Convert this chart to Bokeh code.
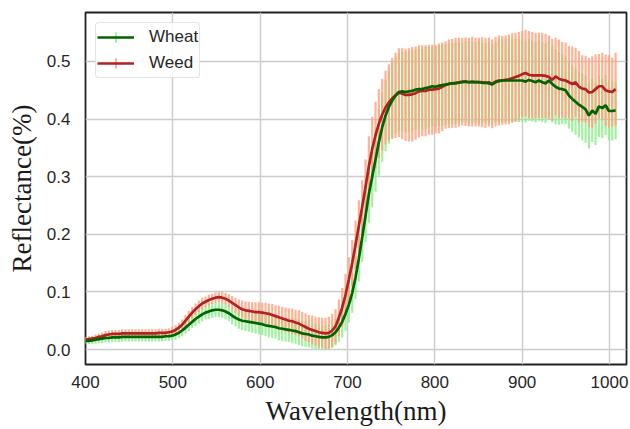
import numpy as np
from bokeh.plotting import figure
from bokeh.models import (ColumnDataSource, Legend, LegendItem, FixedTicker,
                          PrintfTickFormatter, Range1d)
from bokeh.embed import file_html
from bokeh.resources import INLINE

# band centres of the spectrometer (nm)
wavelength = np.linspace(400, 1007, 160)

wheat_mean = [
    0.015, 0.015, 0.016, 0.017, 0.018, 0.019, 0.020, 0.020, 0.021, 0.021,
    0.021, 0.022, 0.022, 0.022, 0.022, 0.022, 0.022, 0.022, 0.022, 0.022,
    0.022, 0.022, 0.022, 0.022, 0.023, 0.023, 0.024, 0.026, 0.029, 0.033,
    0.038, 0.043, 0.048, 0.053, 0.057, 0.061, 0.064, 0.066, 0.068, 0.069,
    0.069, 0.068, 0.066, 0.063, 0.059, 0.055, 0.052, 0.050, 0.049, 0.048,
    0.047, 0.046, 0.045, 0.044, 0.042, 0.041, 0.040, 0.039, 0.037, 0.036,
    0.035, 0.034, 0.033, 0.032, 0.030, 0.028, 0.027, 0.026, 0.024, 0.023,
    0.022, 0.021, 0.021, 0.022, 0.025, 0.030, 0.038, 0.048, 0.062, 0.078,
    0.098, 0.125, 0.158, 0.195, 0.232, 0.270, 0.300, 0.330, 0.360, 0.386,
    0.406, 0.421, 0.432, 0.441, 0.447, 0.448, 0.447, 0.448, 0.449, 0.451,
    0.452, 0.452, 0.454, 0.455, 0.457, 0.456, 0.458, 0.459, 0.460, 0.461,
    0.462, 0.462, 0.463, 0.464, 0.465, 0.464, 0.464, 0.464, 0.464, 0.463,
    0.463, 0.462, 0.460, 0.464, 0.466, 0.467, 0.467, 0.467, 0.467, 0.467,
    0.467, 0.467, 0.465, 0.468, 0.466, 0.464, 0.467, 0.464, 0.462, 0.467,
    0.461, 0.456, 0.453, 0.452, 0.450, 0.441, 0.435, 0.430, 0.425, 0.421,
    0.417, 0.406, 0.415, 0.409, 0.422, 0.419, 0.424, 0.414, 0.414, 0.415,
]
wheat_std = [
    0.006, 0.006, 0.007, 0.007, 0.007, 0.008, 0.008, 0.008, 0.008, 0.008,
    0.008, 0.008, 0.008, 0.008, 0.008, 0.008, 0.008, 0.008, 0.008, 0.008,
    0.008, 0.008, 0.008, 0.008, 0.008, 0.008, 0.008, 0.009, 0.009, 0.010,
    0.010, 0.011, 0.011, 0.012, 0.012, 0.012, 0.012, 0.013, 0.013, 0.013,
    0.013, 0.013, 0.014, 0.014, 0.015, 0.015, 0.016, 0.016, 0.017, 0.017,
    0.018, 0.018, 0.019, 0.019, 0.019, 0.020, 0.020, 0.020, 0.021, 0.021,
    0.021, 0.021, 0.022, 0.022, 0.022, 0.022, 0.022, 0.022, 0.022, 0.022,
    0.022, 0.022, 0.022, 0.022, 0.022, 0.023, 0.025, 0.027, 0.029, 0.031,
    0.034, 0.037, 0.040, 0.043, 0.046, 0.050, 0.053, 0.056, 0.058, 0.060,
    0.062, 0.064, 0.066, 0.067, 0.068, 0.069, 0.070, 0.070, 0.070, 0.070,
    0.070, 0.070, 0.071, 0.070, 0.069, 0.070, 0.070, 0.071, 0.070, 0.070,
    0.070, 0.071, 0.070, 0.069, 0.070, 0.071, 0.070, 0.070, 0.071, 0.070,
    0.070, 0.071, 0.070, 0.070, 0.071, 0.071, 0.072, 0.071, 0.071, 0.072,
    0.072, 0.072, 0.071, 0.071, 0.070, 0.070, 0.070, 0.069, 0.069, 0.068,
    0.067, 0.065, 0.063, 0.061, 0.059, 0.058, 0.057, 0.057, 0.057, 0.058,
    0.058, 0.057, 0.055, 0.054, 0.053, 0.052, 0.052, 0.051, 0.051, 0.050,
]
weed_mean = [
    0.017, 0.018, 0.019, 0.020, 0.022, 0.023, 0.025, 0.026, 0.027, 0.027,
    0.027, 0.028, 0.028, 0.028, 0.028, 0.028, 0.028, 0.028, 0.028, 0.028,
    0.028, 0.028, 0.029, 0.029, 0.029, 0.030, 0.031, 0.034, 0.038, 0.043,
    0.050, 0.057, 0.064, 0.070, 0.075, 0.080, 0.083, 0.086, 0.088, 0.090,
    0.091, 0.090, 0.088, 0.085, 0.081, 0.077, 0.073, 0.070, 0.068, 0.067,
    0.066, 0.065, 0.065, 0.064, 0.063, 0.062, 0.060, 0.058, 0.056, 0.054,
    0.052, 0.050, 0.049, 0.047, 0.045, 0.042, 0.039, 0.036, 0.034, 0.032,
    0.030, 0.029, 0.028, 0.029, 0.033, 0.040, 0.055, 0.073, 0.095, 0.122,
    0.150, 0.182, 0.215, 0.248, 0.282, 0.318, 0.348, 0.372, 0.392, 0.408,
    0.420, 0.429, 0.436, 0.441, 0.446, 0.444, 0.442, 0.442, 0.443, 0.445,
    0.448, 0.449, 0.449, 0.451, 0.451, 0.452, 0.453, 0.456, 0.459, 0.461,
    0.462, 0.463, 0.464, 0.465, 0.465, 0.464, 0.465, 0.464, 0.464, 0.464,
    0.463, 0.464, 0.461, 0.465, 0.467, 0.467, 0.468, 0.469, 0.471, 0.473,
    0.475, 0.478, 0.480, 0.477, 0.476, 0.476, 0.476, 0.476, 0.475, 0.473,
    0.468, 0.474, 0.470, 0.468, 0.467, 0.464, 0.461, 0.464, 0.456, 0.453,
    0.452, 0.446, 0.447, 0.452, 0.457, 0.457, 0.450, 0.448, 0.447, 0.452,
]
weed_std = [
    0.005, 0.005, 0.005, 0.006, 0.006, 0.006, 0.007, 0.007, 0.007, 0.007,
    0.007, 0.007, 0.007, 0.007, 0.007, 0.007, 0.007, 0.007, 0.007, 0.007,
    0.007, 0.007, 0.007, 0.007, 0.007, 0.007, 0.008, 0.008, 0.009, 0.009,
    0.010, 0.010, 0.010, 0.010, 0.010, 0.010, 0.009, 0.009, 0.009, 0.009,
    0.009, 0.010, 0.010, 0.011, 0.012, 0.013, 0.014, 0.015, 0.016, 0.016,
    0.016, 0.017, 0.017, 0.017, 0.018, 0.018, 0.019, 0.019, 0.020, 0.020,
    0.021, 0.021, 0.022, 0.022, 0.023, 0.023, 0.024, 0.024, 0.025, 0.025,
    0.026, 0.026, 0.027, 0.028, 0.029, 0.030, 0.032, 0.034, 0.036, 0.038,
    0.040, 0.042, 0.044, 0.046, 0.048, 0.052, 0.056, 0.058, 0.060, 0.062,
    0.064, 0.066, 0.070, 0.074, 0.077, 0.079, 0.080, 0.081, 0.082, 0.081,
    0.080, 0.079, 0.079, 0.078, 0.078, 0.077, 0.078, 0.077, 0.076, 0.077,
    0.077, 0.078, 0.077, 0.076, 0.077, 0.077, 0.078, 0.077, 0.077, 0.078,
    0.078, 0.077, 0.077, 0.078, 0.078, 0.077, 0.077, 0.078, 0.078, 0.077,
    0.076, 0.075, 0.075, 0.076, 0.075, 0.074, 0.074, 0.074, 0.073, 0.072,
    0.071, 0.067, 0.068, 0.066, 0.066, 0.063, 0.065, 0.060, 0.062, 0.058,
    0.058, 0.060, 0.062, 0.060, 0.056, 0.058, 0.062, 0.063, 0.060, 0.063,
]

x_ticks = [400, 500, 600, 700, 800, 900, 1000]
y_ticks = [0.0, 0.1, 0.2, 0.3, 0.4, 0.5]

wm = np.array(wheat_mean); ws = np.array(wheat_std)
dm = np.array(weed_mean); ds = np.array(weed_std)
src = ColumnDataSource(dict(
    wl=wavelength, wheat=wm, wheat_lo=wm - ws, wheat_hi=wm + ws,
    weed=dm, weed_lo=dm - ds, weed_hi=dm + ds,
))

p = figure(width=630, height=429, output_backend="svg", toolbar_location=None,
           title=None,
           x_range=Range1d(400, 1019.5), y_range=Range1d(-0.026, 0.585),
           min_border_left=85, min_border_right=4, min_border_top=12,
           min_border_bottom=65)
p.background_fill_color = "white"
p.border_fill_color = "white"
p.outline_line_color = "#222222"
p.outline_line_width = 1.8

# error bars
p.segment(x0="wl", y0="wheat_lo", x1="wl", y1="wheat_hi", source=src,
          line_color="lightgreen", line_width=2.2, line_alpha=0.85)
p.segment(x0="wl", y0="weed_lo", x1="wl", y1="weed_hi", source=src,
          line_color="lightsalmon", line_width=2.2, line_alpha=0.8)
# mean lines
r_weed = p.line("wl", "weed", source=src, line_color="firebrick", line_width=2.7)
r_wheat = p.line("wl", "wheat", source=src, line_color="darkgreen", line_width=2.7)

# legend swatch helpers: zero-size markers on the plot, drawn only in the legend
lg_wheat = p.scatter("wl", "wheat", source=src, marker="cross", size=0,
                     line_color="lightgreen", line_width=1.6)
lg_weed = p.scatter("wl", "weed", source=src, marker="cross", size=0,
                    line_color="lightsalmon", line_width=1.6)

legend = Legend(items=[LegendItem(label="Wheat", renderers=[lg_wheat, r_wheat]),
                       LegendItem(label="Weed", renderers=[lg_weed, r_weed])],
                location="top_left", margin=10, padding=1, spacing=0,
                glyph_width=37, glyph_height=26, label_height=26,
                label_standoff=15, label_text_font="Liberation Sans",
                label_text_font_size="17px", label_text_color="#262626",
                border_line_color="#cccccc", border_line_width=1,
                border_radius=4, background_fill_alpha=0.85)
p.add_layout(legend)

# axes
for ax in (p.xaxis[0], p.yaxis[0]):
    ax.axis_line_color = None
    ax.major_tick_line_color = None
    ax.minor_tick_line_color = None
    ax.major_tick_out = 0
    ax.major_tick_in = 0
    ax.major_label_text_font = "Liberation Sans"
    ax.major_label_text_font_size = "17px"
    ax.major_label_text_color = "#262626"
    ax.axis_label_text_font = "Liberation Serif"
    ax.axis_label_text_font_size = "27px"
    ax.axis_label_text_font_style = "normal"
    ax.axis_label_text_color = "#1a1a1a"

p.xaxis.ticker = FixedTicker(ticks=x_ticks)
p.xaxis.formatter = PrintfTickFormatter(format="%d")
p.yaxis.ticker = FixedTicker(ticks=y_ticks)
p.yaxis.formatter = PrintfTickFormatter(format="%.1f")
p.xaxis.axis_label = "Wavelength(nm)"
p.yaxis.axis_label = "Reflectance(%)"
p.xaxis.major_label_standoff = 11
p.yaxis.major_label_standoff = 15
p.xaxis.axis_label_standoff = 5
p.yaxis.axis_label_standoff = 7

p.xgrid.grid_line_color = "#cccccc"
p.ygrid.grid_line_color = "#cccccc"
p.xgrid.grid_line_width = 1.4
p.ygrid.grid_line_width = 1.4

open("out.html", "w").write(file_html(p, INLINE))
